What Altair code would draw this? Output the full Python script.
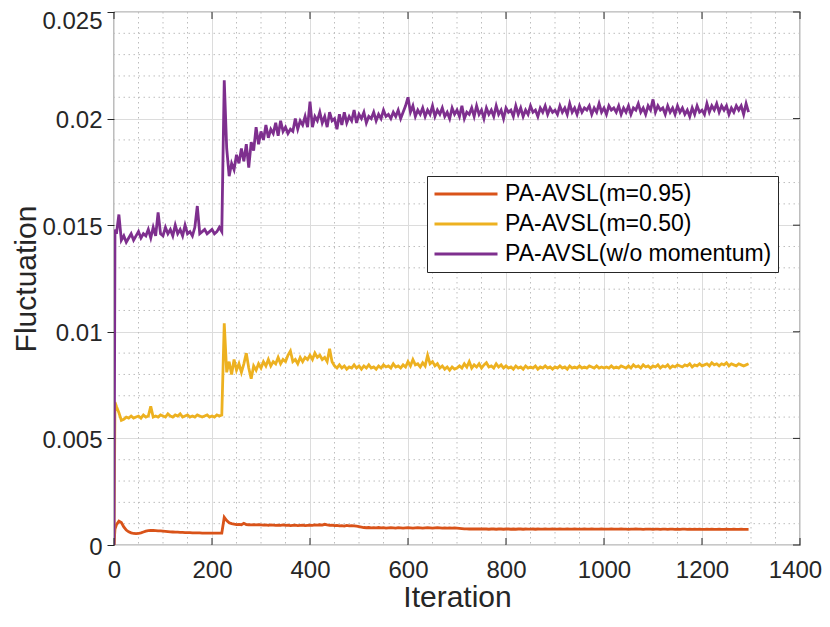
import altair as alt
import pandas as pd

# ---- data (values in units of 1e-3) ----
series_names = ["PA-AVSL(m=0.95)", "PA-AVSL(m=0.50)", "PA-AVSL(w/o momentum)"]
series_colors = ["#D95319", "#EDB120", "#7E2F8E"]

orange_e3 = [
    0.0, 0.75,
    0.95, 1.12, 1.05, 0.85, 0.7, 0.62, 0.57, 0.54, 0.53, 0.54, 0.57, 0.61, 0.65, 0.67, 0.68, 0.68, 0.67, 0.66, 0.66, 0.65,
    0.64, 0.63, 0.62, 0.61, 0.6, 0.6, 0.59, 0.59, 0.58, 0.58, 0.58, 0.57, 0.57, 0.57, 0.57, 0.56, 0.56, 0.56, 0.56, 0.56,
    0.56, 0.56, 0.56, 0.56, 1.3, 1.15, 1.04, 1.0, 0.98, 0.96, 0.97, 0.95, 1.02, 0.96, 0.95, 0.94, 0.95, 0.94, 0.95, 0.94,
    0.93, 0.94, 0.92, 0.94, 0.93, 0.92, 0.93, 0.92, 0.94, 0.92, 0.93, 0.91, 0.92, 0.93, 0.91, 0.92, 0.93, 0.91, 0.92, 0.93,
    0.92, 0.94, 0.93, 0.95, 0.93, 0.97, 0.94, 0.92, 0.93, 0.91, 0.92, 0.90, 0.91, 0.89, 0.92, 0.90, 0.91, 0.90, 0.88, 0.86,
    0.84, 0.82, 0.81, 0.82, 0.8, 0.81, 0.8, 0.82, 0.8, 0.81, 0.79, 0.8, 0.81, 0.8, 0.79, 0.81, 0.8, 0.79, 0.8, 0.81,
    0.8, 0.79, 0.8, 0.81, 0.8, 0.79, 0.8, 0.81, 0.8, 0.79, 0.8, 0.81, 0.8, 0.79, 0.8, 0.79, 0.8, 0.79, 0.8, 0.79,
    0.78, 0.77, 0.76, 0.76, 0.75, 0.75, 0.76, 0.75, 0.75, 0.76, 0.75, 0.75, 0.74, 0.75, 0.75, 0.74, 0.75, 0.75, 0.74, 0.75,
    0.75, 0.74, 0.75, 0.74, 0.75, 0.75, 0.74, 0.75, 0.74, 0.74, 0.75, 0.74, 0.75, 0.74, 0.74, 0.75, 0.74, 0.74, 0.75, 0.74,
    0.74, 0.75, 0.74, 0.74, 0.75, 0.74, 0.74, 0.75, 0.74, 0.74, 0.74, 0.75, 0.74, 0.74, 0.75, 0.74, 0.74, 0.74, 0.75, 0.74,
    0.74, 0.74, 0.75, 0.74, 0.74, 0.74, 0.75, 0.74, 0.74, 0.73, 0.74, 0.74, 0.75, 0.74, 0.74, 0.73, 0.74, 0.74, 0.74, 0.73,
    0.74, 0.74, 0.73, 0.74, 0.74, 0.73, 0.74, 0.74, 0.73, 0.74, 0.73, 0.74, 0.74, 0.73, 0.74, 0.73, 0.74, 0.73, 0.74, 0.73,
    0.73, 0.74, 0.73, 0.74, 0.73, 0.73, 0.74, 0.73, 0.73, 0.74, 0.73, 0.73, 0.74, 0.73, 0.73, 0.74, 0.73, 0.73, 0.73,
]

yellow_e3 = [
    0.0, 6.7,
    6.5, 6.2, 5.85, 5.9, 6.0, 5.95, 6.05, 5.95, 6.0, 6.05, 5.95, 6.1, 6.0, 6.05, 6.5, 6.0, 6.05, 6.0, 6.1, 6.05,
    6.0, 6.15, 6.05, 6.0, 6.1, 6.05, 6.15, 6.0, 6.05, 6.1, 6.0, 6.05, 6.0, 6.1, 6.05, 6.0, 6.05, 6.1, 6.0, 6.05,
    6.0, 6.1, 6.05, 6.1, 10.4, 8.1, 8.6, 8.0, 8.7, 8.2, 8.5, 8.1, 8.5, 9.0, 8.3, 7.8, 8.4, 8.2, 8.5, 8.3,
    8.6, 8.4, 8.7, 8.4, 8.6, 8.5, 8.8, 8.5, 8.7, 8.6, 8.9, 9.1, 8.6, 8.7, 8.5, 8.8, 8.6, 8.8, 8.7, 8.9,
    8.7, 9.0, 8.8, 8.9, 8.7, 8.8, 8.6, 9.2, 8.6, 8.4, 8.3, 8.45, 8.3, 8.4, 8.25, 8.35, 8.3, 8.45, 8.3, 8.4,
    8.25, 8.4, 8.3, 8.45, 8.3, 8.35, 8.25, 8.4, 8.3, 8.45, 8.35, 8.4, 8.3, 8.5, 8.35, 8.4, 8.3, 8.45, 8.35, 8.6,
    8.4, 8.7, 8.45, 8.5, 8.35, 8.55, 8.4, 8.9, 8.5, 8.6, 8.4, 8.5, 8.3, 8.4, 8.25, 8.35, 8.2, 8.35, 8.25, 8.3,
    8.4, 8.3, 8.5, 8.35, 8.6, 8.3, 8.45, 8.35, 8.5, 8.3, 8.45, 8.55, 8.35, 8.4, 8.3, 8.5, 8.35, 8.45, 8.3, 8.4,
    8.3, 8.35, 8.25, 8.4, 8.3, 8.35, 8.25, 8.4, 8.3, 8.35, 8.3, 8.4, 8.25, 8.35, 8.3, 8.4, 8.3, 8.35, 8.25, 8.35,
    8.3, 8.4, 8.3, 8.35, 8.25, 8.4, 8.3, 8.35, 8.3, 8.4, 8.3, 8.35, 8.3, 8.4, 8.35, 8.3, 8.4, 8.3, 8.35, 8.3,
    8.35, 8.3, 8.4, 8.3, 8.35, 8.3, 8.4, 8.35, 8.3, 8.4, 8.3, 8.45, 8.35, 8.4, 8.3, 8.45, 8.35, 8.4, 8.3, 8.4,
    8.35, 8.45, 8.3, 8.4, 8.35, 8.45, 8.3, 8.4, 8.35, 8.45, 8.4, 8.35, 8.45, 8.4, 8.5, 8.35, 8.45, 8.4, 8.5, 8.4,
    8.45, 8.5, 8.4, 8.55, 8.45, 8.5, 8.4, 8.5, 8.45, 8.55, 8.4, 8.5, 8.45, 8.4, 8.5, 8.45, 8.4, 8.45, 8.5,
]

purple_e3 = [
    0.0, 14.8,
    14.6, 15.5, 14.3, 14.5, 14.2, 14.4, 14.6, 14.3, 14.5, 14.7, 14.4, 14.6, 14.5, 14.8, 14.4, 14.9, 14.5, 15.6, 14.6, 14.5,
    14.9, 14.6, 14.8, 14.5, 15.0, 14.6, 14.8, 14.5, 15.0, 14.6, 14.7, 14.5, 14.9, 15.9, 14.6, 14.7, 14.8, 14.6, 14.7, 14.8,
    14.6, 14.7, 14.9, 14.7, 21.8, 18.6, 17.3, 17.9, 17.6, 18.3, 17.9, 18.6, 18.0, 18.8, 17.7, 18.9, 18.5, 19.6, 18.8, 19.4,
    19.0, 19.7, 19.1, 19.5, 19.3, 19.8, 19.2, 19.9, 19.4, 19.6, 19.3, 19.5, 19.4, 20.0, 19.5, 19.9, 19.7, 20.1, 19.6, 20.8,
    19.6, 20.1, 19.9, 20.3, 19.8, 20.1, 19.6, 20.3, 19.9, 20.0, 19.5, 20.2, 19.7, 20.3, 19.8, 20.1, 19.9, 20.4, 19.8, 20.2,
    20.0, 20.3, 19.8, 20.1, 20.0, 20.3, 19.9, 20.2, 20.0, 20.4, 20.1, 20.2, 20.0, 20.3, 20.1, 20.4, 20.0, 20.3, 20.6, 21.0,
    20.3, 20.6, 20.1, 20.4, 20.2, 20.5, 20.1, 20.4, 20.2, 20.6, 20.1, 20.4, 20.2, 20.5, 20.1, 20.3, 20.0, 20.5, 20.2, 20.4,
    20.1, 20.6, 20.0, 20.3, 20.2, 20.5, 20.1, 20.6, 20.2, 20.4, 20.0, 20.5, 20.2, 20.4, 20.1, 20.6, 20.2, 20.4, 20.0, 20.5,
    20.3, 20.4, 20.1, 20.6, 20.2, 20.5, 20.1, 20.4, 20.2, 20.6, 20.3, 20.4, 20.1, 20.5, 20.3, 20.6, 20.2, 20.5, 20.3, 20.4,
    20.2, 20.6, 20.3, 20.5, 20.2, 20.7, 20.3, 20.5, 20.2, 20.6, 20.3, 20.5, 20.4, 20.6, 20.2, 20.5, 20.3, 20.7, 20.3, 20.5,
    20.2, 20.6, 20.4, 20.5, 20.3, 20.6, 20.2, 20.5, 20.3, 20.6, 20.2, 20.5, 20.4, 20.7, 20.3, 20.5, 20.2, 20.6, 20.4, 20.9,
    20.3, 20.6, 20.4, 20.5, 20.2, 20.6, 20.3, 20.5, 20.2, 20.6, 20.3, 20.5, 20.2, 20.4, 20.1, 20.5, 20.2, 20.6, 20.3, 20.4,
    20.2, 20.7, 20.3, 20.6, 20.4, 20.7, 20.3, 20.6, 20.4, 20.6, 20.2, 20.5, 20.3, 20.6, 20.4, 20.6, 20.2, 20.7, 20.3,
]

x_ticks = [0, 200, 400, 600, 800, 1000, 1200, 1400]
y_ticks = [0, 0.005, 0.01, 0.015, 0.02, 0.025]
x_minor = [v for v in range(50, 1400, 50) if v % 200 != 0]
y_minor = [k / 1000 for k in range(1, 25) if k % 5 != 0]


def iterations(n):
    return [0, 2] + [5 * k for k in range(1, n - 1)]


rows = []
for name, vals in zip(series_names, [orange_e3, yellow_e3, purple_e3]):
    for it, v in zip(iterations(len(vals)), vals):
        rows.append({"Iteration": it, "value": v / 1000.0, "series": name})
df = pd.DataFrame(rows)

W, H = 686, 533
FONT = "Liberation Sans"
TXT = "#262626"

xscale = alt.Scale(domain=[0, 1400], nice=False, zero=False)
yscale = alt.Scale(domain=[0, 0.025], nice=False, zero=False)

x_axis = alt.Axis(
    values=x_ticks, format="d", title="Iteration", grid=True,
    gridColor="#dcdcdc", gridWidth=1, tickSize=0, domain=False,
    labelPadding=13, titlePadding=0, titleFontSize=30, labelFlush=False,
    labelOffset={"condition": {"test": "datum.value >= 1400", "value": -5}, "value": 0},
)
y_axis = alt.Axis(
    values=y_ticks, format=".3~f", title="Fluctuation", grid=True,
    gridColor="#dcdcdc", gridWidth=1, tickSize=7, tickColor=TXT,
    domain=False, labelPadding=5, titlePadding=0,
    titleFontSize=30, labelFlush=False,
    labelOffset={"condition": {"test": "datum.value >= 0.0249", "value": 9}, "value": 2},
)

xminor = alt.Chart(pd.DataFrame({"v": x_minor})).mark_rule(
    color="#bdbdbd", strokeWidth=1, strokeDash=[1.5, 3.5]
).encode(x=alt.X("v:Q", scale=xscale, axis=x_axis, title="Iteration"))

yminor = alt.Chart(pd.DataFrame({"v": y_minor})).mark_rule(
    color="#bdbdbd", strokeWidth=1, strokeDash=[1.5, 3.5]
).encode(y=alt.Y("v:Q", scale=yscale, axis=y_axis, title="Fluctuation"))

lines = alt.Chart(df).mark_line(strokeWidth=2.8, clip=True).encode(
    x=alt.X("Iteration:Q", scale=xscale, axis=x_axis, title="Iteration"),
    y=alt.Y("value:Q", scale=yscale, axis=y_axis, title="Fluctuation"),
    color=alt.Color(
        "series:N",
        scale=alt.Scale(domain=series_names, range=series_colors),
        legend=alt.Legend(
            title=None, orient="none", legendX=313, legendY=164,
            symbolType="M-1,0H5", symbolSize=441, symbolStrokeWidth=3,
            labelFontSize=23, labelFont=FONT, labelColor="#000000",
            labelOffset=48, rowPadding=6, padding=6,
            strokeColor="#262626", fillColor="#ffffff", labelLimit=400,
        ),
    ),
    order=alt.Order("Iteration:Q"),
    detail="series:N",
)

bottom_ticks = alt.Chart(pd.DataFrame({"v": x_ticks})).mark_rule(
    color=TXT, strokeWidth=1
).encode(x=alt.X("v:Q", scale=xscale, axis=x_axis, title="Iteration"),
         y=alt.value(H), y2=alt.value(H - 7))

top_ticks = alt.Chart(pd.DataFrame({"v": x_ticks})).mark_rule(
    color=TXT, strokeWidth=1
).encode(x=alt.X("v:Q", scale=xscale, axis=x_axis, title="Iteration"),
         y=alt.value(0), y2=alt.value(7))

right_ticks = alt.Chart(pd.DataFrame({"v": y_ticks})).mark_rule(
    color=TXT, strokeWidth=1
).encode(y=alt.Y("v:Q", scale=yscale, axis=y_axis, title="Fluctuation"),
         x=alt.value(W), x2=alt.value(W - 7))

chart = (
    alt.layer(xminor, yminor, lines, bottom_ticks, top_ticks, right_ticks)
    .properties(
        width=W, height=H,
        autosize=alt.AutoSizeParams(type="none"),
        padding={"left": 106, "top": 4, "right": 22, "bottom": 74},
    )
    .configure_view(stroke=TXT, strokeWidth=1.2)
    .configure_axis(
        labelFont=FONT, labelFontSize=24, labelColor=TXT,
        titleFont=FONT, titleFontWeight="normal", titleColor=TXT,
    )
)

chart.save("out.html", embed_options={"renderer": "svg", "actions": False})
